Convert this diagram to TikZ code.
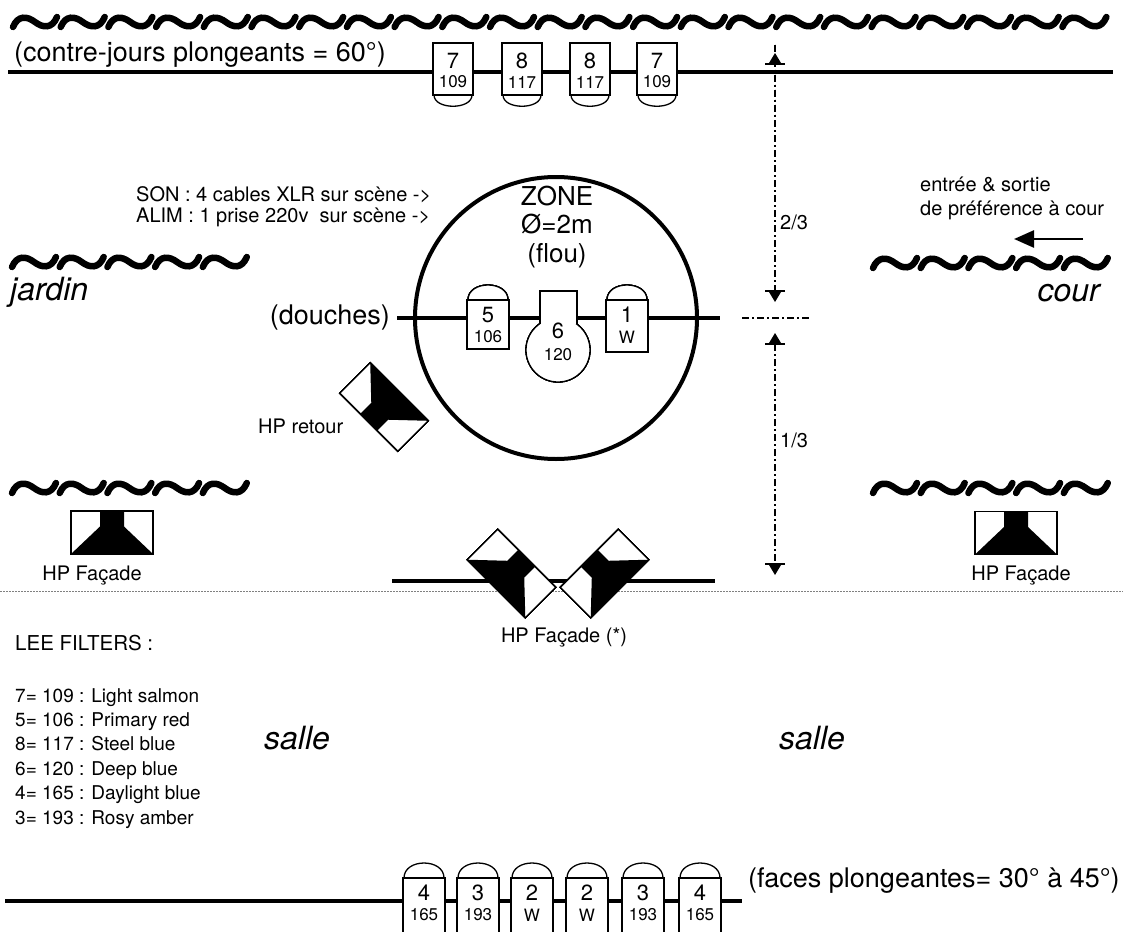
\documentclass[tikz,border=0pt]{standalone}
\usepackage{fontspec}
\setmainfont{TeX Gyre Heros}
\usetikzlibrary{arrows.meta}
\tikzset{
  bigtxt/.style={font=\fontsize{27}{31}\selectfont,inner sep=0pt},
  smalltxt/.style={font=\fontsize{20}{24}\selectfont,inner sep=0pt},
  leetxt/.style={font=\fontsize{19}{23}\selectfont,inner sep=0pt},
  sidetxt/.style={font=\fontsize{32}{36}\selectfont\itshape,inner sep=0pt},
  numtxt/.style={font=\fontsize{22}{24}\selectfont,inner sep=0pt},
  flttxt/.style={font=\fontsize{17}{19}\selectfont,inner sep=0pt},
  pipe/.style={line width=4pt},
  lampbody/.style={draw,fill=white,line width=1.3pt},
  tilde/.style={line width=6.5pt,line cap=round},
  dimline/.style={line width=1.3pt,dash pattern=on 7pt off 3pt on 2pt off 3pt},
}
% rangee de tildes (rideaux) : x, y, nombre
\newcommand{\wavyrow}[3]{%
  \foreach \k in {1,...,#3}{
    \draw[tilde,shift={(#1+\k*47.7-47.7,#2)}] (0,5) .. controls (5,-7) and (14,-6) .. (22,0) .. controls (30,6) and (39,7) .. (44,-5);
  }}
% projecteur lentille en bas : x, haut, numero, filtre
\newcommand{\lampdown}[4]{%
  \draw[lampbody] (#1-19,#2+52) .. controls (#1-19,#2+67) and (#1+19,#2+67) .. (#1+19,#2+52);
  \draw[lampbody] (#1-20,#2) rectangle (#1+20,#2+52);
  \node[numtxt] at (#1,#2+18) {#3};
  \node[flttxt] at (#1,#2+39) {#4};}
% projecteur lentille en haut : x, haut, hauteur, numero, filtre
\newcommand{\lampup}[5]{%
  \draw[lampbody] (#1-20,#2) .. controls (#1-20,#2-20) and (#1+20,#2-20) .. (#1+20,#2);
  \draw[lampbody] (#1-21,#2) rectangle (#1+21,#2+#3);
  \node[numtxt] at (#1,#2+15) {#4};
  \node[flttxt] at (#1,#2+37) {#5};}
% haut-parleur : x, y, angle
\newcommand{\hpicon}[3]{%
  \begin{scope}[shift={(#1,#2)},rotate=#3]
    \fill[white] (-41,-21.5) rectangle (41,21.5);
    \fill (-12,-21.5) -- (12,-21.5) -- (12,-6) -- (41,21.5) -- (-41,21.5) -- (-12,-6) -- cycle;
    \draw[line width=1.3pt] (-41,-21.5) rectangle (41,21.5);
  \end{scope}}
% fleche de cote : x, pointe, sens (1 bas, -1 haut)
\newcommand{\dimtip}[3]{%
  \fill (#1,#2) -- ({#1-6},{#2-10*(#3)}) -- ({#1+6},{#2-10*(#3)}) -- cycle;
  \draw[line width=1.3pt] ({#1-10},{#2-11*(#3)}) -- ({#1+10},{#2-11*(#3)});}
\begin{document}
\begin{tikzpicture}[x=1pt,y=-1pt]
\useasboundingbox (0,0) rectangle (1123,931);
\fill[white] (0,0) rectangle (1123,931);
% rideaux
\wavyrow{13}{22}{23}
\wavyrow{12}{262}{5}
\wavyrow{12}{488}{5}
\wavyrow{873}{263}{5}
\wavyrow{873}{488}{5}
% perches
\draw[pipe] (8,72) -- (1113,72);
\draw[pipe] (397,318) -- (720,318);
\draw[pipe] (5,901) -- (742,901);
\draw[pipe] (392,581) -- (715,581);
\draw[line width=1pt,gray,dash pattern=on 1.5pt off 1.5pt] (0,591) -- (1123,591);
% zone
\draw[line width=4pt] (556,318) circle (141);
\node[bigtxt,font=\fontsize{26}{28.5}\selectfont,align=center] (zone) at (557,227) {ZONE\\Ø=2m\\(flou)};
% contre-jours
\foreach \cx/\n/\f in {453/7/109,522/8/117,590/8/117,657/7/109}
  \lampdown{\cx}{43}{\n}{\f}
% douches
\lampup{488}{300}{49}{5}{106}
\lampup{627}{300}{52}{1}{W}
\draw[lampbody] (558,350) circle (32);
\fill[white] (540,291) rectangle (577,324);
\draw[line width=1.3pt] (540,324) -- (540,291) -- (577,291) -- (577,324);
\node[numtxt] (six) at (558,331) {6};
\node[flttxt] (sixf) at (558,355) {120};
% faces
\foreach \cx/\n/\f in {424/4/165,478/3/193,532/2/W,587/2/W,643/3/193,700/4/165}
  \lampup{\cx}{878}{60}{\n}{\f}
% haut-parleurs
\hpicon{112}{532.5}{0}
\hpicon{1016}{533}{0}
\hpicon{384}{407}{135}
\hpicon{511.5}{573.5}{-45}
\hpicon{604.5}{573.5}{45}
% cotes
\draw[dimline] (775,45) -- (775,292);
\draw[dimline] (775,344) -- (775,564);
\draw[dimline] (742,318) -- (810,318);
\dimtip{775}{53}{-1}
\dimtip{775}{302}{1}
\dimtip{775}{333}{-1}
\dimtip{775}{575}{1}
\node[smalltxt,anchor=west] (deuxtiers) at (780,222) {2/3};
\node[smalltxt,anchor=west] (untiers) at (780,440) {1/3};
% entree
\coordinate (entreeA) at (1083,239);
\coordinate (entreeB) at (1014,239);
\draw[line width=2.5pt,-{Triangle[length=20pt,width=17pt]}] (entreeA) -- (entreeB);
% textes
\node[bigtxt,anchor=base west] (contre) at (14,62) {(contre-jours plongeants = 60°)};
\node[bigtxt,anchor=base west] (faces) at (748,887) {(faces plongeantes= 30° à 45°)};
\node[bigtxt,anchor=east] (douches) at (390,318) {(douches)};
\node[smalltxt,anchor=base west] (son) at (136,201) {SON : 4 cables XLR sur scène ->};
\node[smalltxt,anchor=base west] (alim) at (136,222) {ALIM : 1 prise 220v\ \ sur scène ->};
\node[smalltxt,anchor=base west] (entree) at (920,191) {entrée \& sortie};
\node[smalltxt,anchor=base west] (pref) at (920,215) {de préférence à cour};
\node[sidetxt,anchor=base west] (jardin) at (10,300) {jardin};
\node[sidetxt,anchor=base east] (cour) at (1100,301) {cour};
\node[smalltxt,anchor=base west] (hpretour) at (258,433) {HP retour};
\node[smalltxt,anchor=base] (hpfacg) at (92,580) {HP Façade};
\node[smalltxt,anchor=base] (hpfacd) at (1021,580) {HP Façade};
\node[smalltxt,anchor=base] (hpfacc) at (564,642) {HP Façade (*)};
\node[sidetxt] (sallea) at (297,738) {salle};
\node[sidetxt] (salleb) at (812,738) {salle};
\node[leetxt,font=\fontsize{20.5}{24}\selectfont,anchor=base west] (lee) at (15,650) {LEE FILTERS :};
\foreach \t [count=\i] in {7= 109 : Light salmon,5= 106 : Primary red,8= 117 : Steel blue,6= 120 : Deep blue,4= 165 : Daylight blue,3= 193 : Rosy amber}
  \node[leetxt,anchor=base west] (filtre\i) at (15,702+24.4*\i-24.4) {\t};
\end{tikzpicture}
\end{document}
